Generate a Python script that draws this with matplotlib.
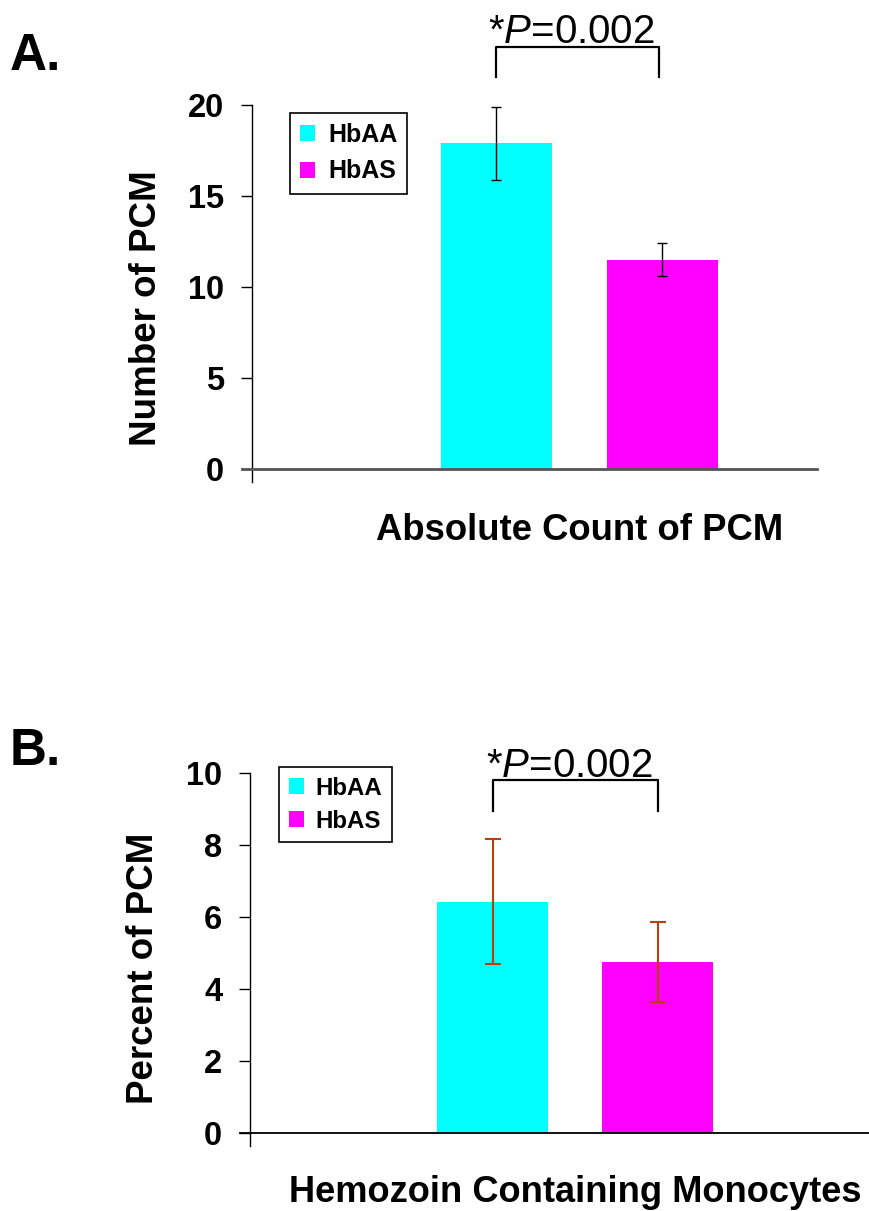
import numpy as np
import matplotlib.pyplot as plt

plt.rcParams['font.family'] = ['Liberation Sans', 'DejaVu Sans']
plt.rcParams['mathtext.fontset'] = 'custom'
plt.rcParams['mathtext.rm'] = 'Liberation Sans'
plt.rcParams['mathtext.it'] = 'Liberation Sans:italic'

groups = ['HbAA', 'HbAS']
colors = ['#00FFFF', '#FF00FF']
count_mean = [17.9, 11.5]
count_err = [2.0, 0.9]
pct_mean = [6.43, 4.75]
pct_err = [1.74, 1.11]
p_label = '*$\\it{P}$=0.002'

W, H = 870, 1211
fig = plt.figure(figsize=(W/100, H/100), dpi=100)

def fx(px):
    return px / W

def fy(py):
    return 1 - py / H

axA = fig.add_axes([fx(252), fy(469), (817-252)/W, (469-105)/H])
axB = fig.add_axes([fx(250), fy(1133), (872-250)/W, (1133-773)/H])

x = np.arange(len(groups))

# panel A
for i in range(len(groups)):
    axA.bar(x[i], count_mean[i], 0.669, color=colors[i], label=groups[i],
            yerr=count_err[i], capsize=3.3,
            error_kw=dict(ecolor='black', elinewidth=1, capthick=1))
axA.set_xlim(-1.473, 1.931)
axA.set_ylim(0, 20)
axA.set_yticks([0, 5, 10, 15, 20])

# panel B
for i in range(len(groups)):
    axB.bar(x[i], pct_mean[i], 0.673, color=colors[i], label=groups[i],
            yerr=pct_err[i], capsize=5.8,
            error_kw=dict(ecolor='#B5410F', elinewidth=1.5, capthick=1.5))
axB.set_xlim(-1.47, 2.30)
axB.set_ylim(0, 10)
axB.set_yticks([0, 2, 4, 6, 8, 10])

for ax, ppu, ypu, xcol, xlw in [(axA, 166, 18.2, '#555555', 2.0), (axB, 165, 36, 'black', 1.3)]:
    ax.spines['top'].set_visible(False)
    ax.spines['right'].set_visible(False)
    ax.spines['left'].set_color('black')
    ax.spines['left'].set_linewidth(1.0)
    ax.spines['bottom'].set_color(xcol)
    ax.spines['bottom'].set_linewidth(xlw)
    y0, y1 = ax.get_ylim()
    x0, x1 = ax.get_xlim()
    ax.spines['left'].set_bounds(y0 - 13/ypu, y1)
    ax.spines['bottom'].set_bounds(x0 - 10/ppu, x1)
    ax.set_xticks([])
    ax.tick_params(axis='y', direction='out', length=8, width=1, pad=12,
                   labelsize=23.5)
    for lab in ax.get_yticklabels():
        lab.set_fontweight('bold')

# brackets
axA.plot([0, 0, 0.98, 0.98], [21.54, 23.19, 23.19, 21.54], color='black', lw=1.6, clip_on=False)
axB.plot([0, 0, 1.0, 1.0], [8.94, 9.81, 9.81, 8.94], color='black', lw=1.6, clip_on=False)

fig.text(fx(571), fy(43), p_label, fontsize=29, ha='center', va='baseline')
fig.text(fx(569), fy(777), p_label, fontsize=29, ha='center', va='baseline')

# legends
for ax, (lx, ly), fs, ls in [(axA, (290, 113), 18, 0.5), (axB, (279, 767), 17.3, 0.42)]:
    leg = ax.legend(loc='upper left', bbox_to_anchor=(fx(lx), fy(ly)),
                    bbox_transform=fig.transFigure, borderaxespad=0,
                    fancybox=False, edgecolor='black', framealpha=1,
                    prop=dict(weight='bold', size=fs),
                    handlelength=0.62, handleheight=0.62, handletextpad=0.5,
                    labelspacing=ls, borderpad=0.4)
    leg.get_frame().set_linewidth(1.2)

# labels
fig.text(fx(146), fy(308), 'Number of PCM', rotation=90, ha='center', va='center',
         fontsize=26.5, fontweight='bold')
fig.text(fx(144), fy(968), 'Percent of PCM', rotation=90, ha='center', va='center',
         fontsize=26.5, fontweight='bold')
fig.text(fx(580), fy(540), 'Absolute Count of PCM', ha='center', va='baseline',
         fontsize=26.3, fontweight='bold')
fig.text(fx(575), fy(1202), 'Hemozoin Containing Monocytes', ha='center', va='baseline',
         fontsize=26.1, fontweight='bold')
fig.text(fx(10), fy(70), 'A.', ha='left', va='baseline', fontsize=37, fontweight='bold')
fig.text(fx(10), fy(765), 'B.', ha='left', va='baseline', fontsize=37, fontweight='bold')

fig.savefig('out.png', dpi=100)
